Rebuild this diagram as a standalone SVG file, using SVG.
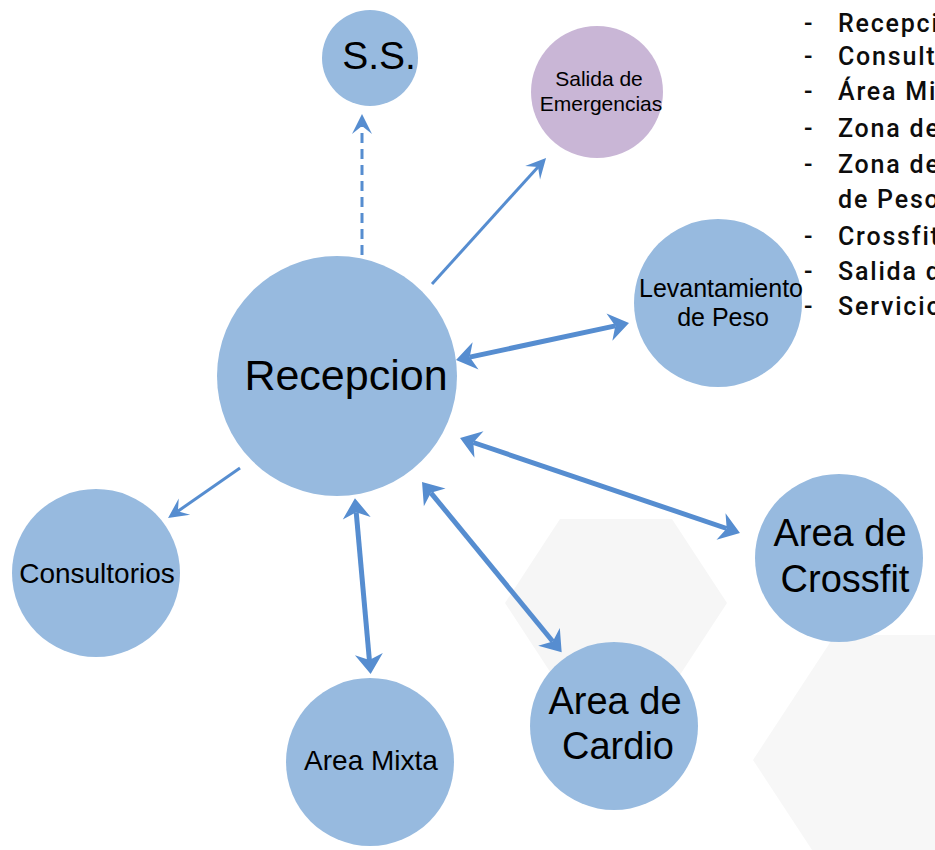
<svg xmlns="http://www.w3.org/2000/svg" width="935" height="850" viewBox="0 0 935 850">
  <style>
    .node { fill: #97badf; }
    .node-alt { fill: #c9b6d6; }
    .lbl { font-family: "Liberation Sans", Arial, sans-serif; fill: #000; text-anchor: middle; }
    .conn { fill: none; stroke: #568dd0; stroke-linecap: butt; }
    .thick { stroke-width: 5; marker-start: url(#headThick); marker-end: url(#headThick); }
    .thin { stroke-width: 3; marker-end: url(#headThin); }
    .dash { stroke-dasharray: 10 6; }
    .list { font-family: "Roboto", "DejaVu Sans", sans-serif; font-size: 25px; font-weight: 500; fill: #0d0d0d; letter-spacing: 1.8px; }
  </style>
  <defs>
    <marker id="headThick" markerUnits="userSpaceOnUse" markerWidth="40" markerHeight="40" refX="0" refY="0" orient="auto-start-reverse" overflow="visible">
      <path d="M14,0 L-6,-14 L0,0 L-6,14 Z" fill="#568dd0"/>
    </marker>
    <marker id="headThin" markerUnits="userSpaceOnUse" markerWidth="40" markerHeight="40" refX="0" refY="0" orient="auto" overflow="visible">
      <path d="M12,0 L-8,-10 L0,0 L-8,10 Z" fill="#568dd0"/>
    </marker>
  </defs>

  <rect x="0" y="0" width="935" height="850" fill="#ffffff"/>

  <!-- faint background hexagons -->
  <g id="background">
    <polygon points="560,519 672,519 727,603 672,687 560,687 505,603" fill="#f6f6f6"/>
    <polygon points="753,760 835,635 1000,635 1080,760 1000,885 835,885" fill="#f7f7f7"/>
  </g>

  <!-- connectors -->
  <g id="connectors">
    <path class="conn thin dash" d="M362,255 L362,126"/>
    <path class="conn thin" d="M432,284 L538,166.9"/>
    <path class="conn thin" d="M240,468 L177.9,511.2"/>
    <path class="conn thick" d="M469.7,357.1 L615.3,325.9"/>
    <path class="conn thick" d="M473.3,442.5 L726.7,528.5"/>
    <path class="conn thick" d="M430.9,492.8 L552.8,641.5"/>
    <path class="conn thick" d="M356.2,512.2 L369.4,660.1"/>
  </g>

  <g id="node-ss">
    <circle class="node" cx="370" cy="58" r="48"/>
    <text class="lbl" x="379" y="69" font-size="39">S.S.</text>
  </g>

  <g id="node-salida">
    <circle class="node-alt" cx="597" cy="92" r="66"/>
    <text class="lbl" x="599" y="86" font-size="21">Salida de</text>
    <text class="lbl" x="601" y="111" font-size="21">Emergencias</text>
  </g>

  <g id="node-recepcion">
    <circle class="node" cx="337" cy="376" r="120"/>
    <text class="lbl" x="346" y="390" font-size="43">Recepcion</text>
  </g>

  <g id="node-levantamiento">
    <circle class="node" cx="718" cy="303" r="84"/>
    <text class="lbl" x="721" y="297" font-size="25">Levantamiento</text>
    <text class="lbl" x="723" y="326" font-size="25">de Peso</text>
  </g>

  <g id="node-consultorios">
    <circle class="node" cx="96" cy="573" r="84"/>
    <text class="lbl" x="97" y="583" font-size="28">Consultorios</text>
  </g>

  <g id="node-mixta">
    <circle class="node" cx="370" cy="762" r="84"/>
    <text class="lbl" x="371" y="770" font-size="28">Area Mixta</text>
  </g>

  <g id="node-cardio">
    <circle class="node" cx="614" cy="726" r="84"/>
    <text class="lbl" x="615" y="714" font-size="38">Area de</text>
    <text class="lbl" x="618" y="759" font-size="38">Cardio</text>
  </g>

  <g id="node-crossfit">
    <circle class="node" cx="839" cy="558" r="84"/>
    <text class="lbl" x="840" y="546" font-size="38">Area de</text>
    <text class="lbl" x="845" y="592" font-size="38">Crossfit</text>
  </g>

  <g id="legend-list">
    <text class="list" x="804" y="32">-</text><text class="list" x="838" y="32">Recepci</text>
    <text class="list" x="804" y="65">-</text><text class="list" x="838" y="65">Consult</text>
    <text class="list" x="804" y="100">-</text><text class="list" x="838" y="100">Área Mi</text>
    <text class="list" x="804" y="137">-</text><text class="list" x="838" y="137">Zona de</text>
    <text class="list" x="804" y="173">-</text><text class="list" x="838" y="173">Zona de</text>
    <text class="list" x="838" y="208">de Peso</text>
    <text class="list" x="804" y="245">-</text><text class="list" x="838" y="245">Crossfit</text>
    <text class="list" x="804" y="280">-</text><text class="list" x="838" y="280">Salida d</text>
    <text class="list" x="804" y="315">-</text><text class="list" x="838" y="315">Servicio</text>
  </g>
</svg>
